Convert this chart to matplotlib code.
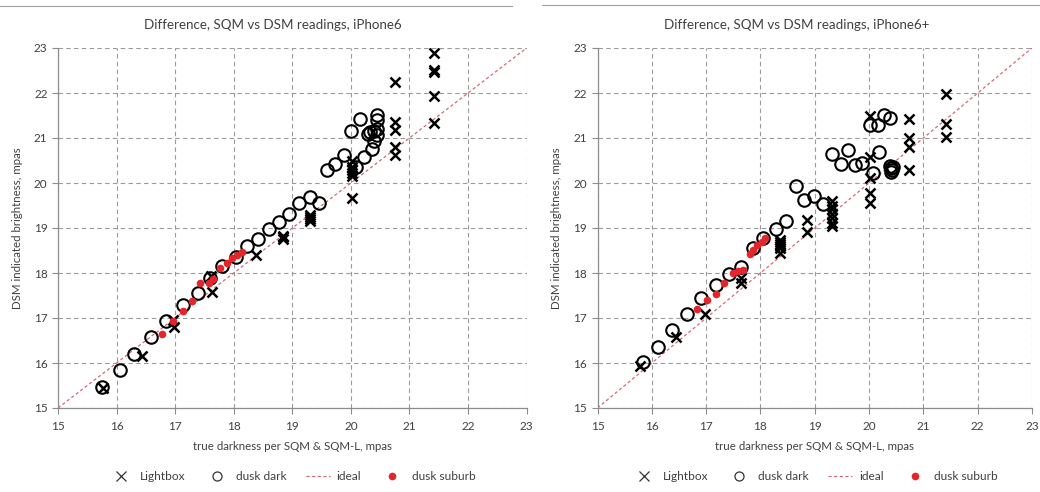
import numpy as np
import matplotlib
matplotlib.use("Agg")
import matplotlib.pyplot as plt
from matplotlib.lines import Line2D

plt.rcParams['font.family'] = ['Lato', 'DejaVu Sans']

# iPhone6 readings: (SQM true darkness, DSM indicated)
p6_lightbox = [
    (15.77, 15.44), (16.44, 16.16), (16.97, 16.95), (16.98, 16.79),
    (17.62, 17.93), (17.63, 17.58), (18.38, 18.40),
    (18.84, 18.75), (18.84, 18.79), (18.84, 18.83),
    (19.31, 19.15), (19.31, 19.20), (19.31, 19.25), (19.31, 19.30),
    (20.02, 19.66), (20.02, 20.15), (20.02, 20.22), (20.02, 20.28),
    (20.02, 20.35), (20.02, 20.50),
    (20.76, 20.62), (20.76, 20.81), (20.76, 21.18), (20.76, 21.36), (20.76, 22.25),
    (21.42, 21.34), (21.42, 21.94), (21.42, 22.47), (21.42, 22.52), (21.42, 22.88),
]
p6_dusk_dark = [
    (15.75, 15.47), (16.06, 15.84), (16.30, 16.21), (16.59, 16.57), (16.85, 16.94),
    (17.13, 17.29), (17.39, 17.56), (17.60, 17.88), (17.80, 18.16), (18.04, 18.35),
    (18.23, 18.59), (18.41, 18.75), (18.60, 18.97), (18.77, 19.14), (18.95, 19.31),
    (19.11, 19.55), (19.31, 19.70), (19.45, 19.55), (19.59, 20.30), (19.73, 20.42),
    (19.88, 20.62), (20.00, 21.16), (20.08, 20.36), (20.15, 21.42), (20.23, 20.57),
    (20.29, 21.09), (20.33, 21.14), (20.36, 20.75), (20.39, 21.16), (20.40, 20.94),
    (20.44, 21.51), (20.44, 21.40), (20.45, 21.19), (20.45, 21.07),
]
p6_dusk_suburb = [
    (16.77, 16.64), (16.97, 16.93), (17.13, 17.16), (17.29, 17.38), (17.43, 17.77),
    (17.57, 17.78), (17.65, 17.86), (17.77, 18.10), (17.88, 18.22), (17.97, 18.33),
    (18.05, 18.40), (18.14, 18.47),
]

# iPhone6+ readings
p6p_lightbox = [
    (15.79, 15.93), (16.44, 16.57), (16.98, 17.09), (17.65, 17.77), (17.65, 17.90),
    (18.36, 18.45), (18.36, 18.55), (18.36, 18.60), (18.36, 18.65), (18.36, 18.70),
    (18.36, 18.74), (18.85, 18.92), (18.85, 19.18),
    (19.31, 19.05), (19.31, 19.12), (19.31, 19.22), (19.31, 19.32), (19.31, 19.42),
    (19.31, 19.50), (19.31, 19.60),
    (20.01, 19.55), (20.01, 19.78), (20.01, 20.10), (20.01, 20.57), (20.01, 21.49),
    (20.73, 20.29), (20.73, 20.81), (20.73, 20.99), (20.73, 21.42),
    (21.41, 21.03), (21.41, 21.31), (21.41, 21.98),
]
p6p_dusk_dark = [
    (15.83, 16.03), (16.12, 16.36), (16.38, 16.73), (16.65, 17.08), (16.90, 17.44),
    (17.18, 17.73), (17.42, 17.97), (17.65, 18.13), (17.86, 18.55), (18.05, 18.77),
    (18.28, 18.97), (18.47, 19.16), (18.65, 19.93), (18.81, 19.62), (18.99, 19.72),
    (19.16, 19.53), (19.32, 20.64), (19.49, 20.42), (19.62, 20.73), (19.75, 20.40),
    (19.87, 20.44), (20.01, 21.29), (20.08, 20.23), (20.16, 21.29), (20.19, 20.70),
    (20.28, 21.51), (20.38, 21.44), (20.38, 20.38), (20.41, 20.33), (20.43, 20.28),
    (20.40, 20.25), (20.44, 20.35),
]
p6p_dusk_suburb = [
    (16.83, 17.21), (17.02, 17.40), (17.18, 17.53), (17.33, 17.77), (17.49, 17.99),
    (17.59, 18.05), (17.68, 18.07), (17.80, 18.42), (17.86, 18.51), (17.94, 18.62),
    (18.02, 18.70), (18.08, 18.77),
]

ideal = [15, 23]
ticks = np.arange(15, 24, 1)

red = '#e3262b'
ideal_col = '#d06a75'
grid_col = '#9a9a9a'
axis_col = '#8c8c8c'
text_col = '#404040'


def draw(ax, lightbox, dusk_dark, dusk_suburb, title, title_x):
    ax.set_xlim(15, 23)
    ax.set_ylim(15, 23)
    ax.set_xticks(ticks)
    ax.set_yticks(ticks)
    ax.grid(True, color=grid_col, linestyle=(0, (4, 3)), linewidth=0.8)
    ax.set_axisbelow(True)
    for s in ['top', 'right']:
        ax.spines[s].set_visible(False)
    for s in ['left', 'bottom']:
        ax.spines[s].set_color(axis_col)
        ax.spines[s].set_linewidth(0.9)
    ax.tick_params(colors=axis_col, labelcolor=text_col, labelsize=8.5, length=4, width=0.8)
    ax.tick_params(axis='x', pad=5)

    ax.plot(ideal, ideal, color=ideal_col, linestyle=(0, (2.5, 2)), linewidth=0.9, zorder=2)
    lb = np.array(lightbox)
    ax.plot(lb[:, 0], lb[:, 1], linestyle='none', marker='x', color='black',
            markersize=7.5, markeredgewidth=1.8, zorder=3)
    dd = np.array(dusk_dark)
    ax.plot(dd[:, 0], dd[:, 1], linestyle='none', marker='o', markerfacecolor='none',
            markeredgecolor='black', markersize=9, markeredgewidth=1.5, zorder=3)
    ds = np.array(dusk_suburb)
    ax.plot(ds[:, 0], ds[:, 1], linestyle='none', marker='o', color=red,
            markersize=4.5, zorder=4)

    ax.set_xlabel('true darkness per SQM & SQM-L, mpas', fontsize=8.3, color=text_col, labelpad=7)
    ax.set_ylabel('DSM indicated brightness, mpas', fontsize=8.3, color=text_col, labelpad=8)
    fig.text(title_x, 1 - 25 / 492, title, fontsize=9.6, color=text_col,
             ha='center', va='center')

    handles = [
        Line2D([], [], linestyle='none', marker='x', color='#333333', markersize=7, markeredgewidth=0.9),
        Line2D([], [], linestyle='none', marker='o', markerfacecolor='none', markeredgecolor='#333333',
               markersize=6.5, markeredgewidth=0.9),
        Line2D([], [], color=ideal_col, linestyle=(0, (2.5, 2)), linewidth=0.9),
        Line2D([], [], linestyle='none', marker='o', color=red, markersize=4.5),
    ]
    labels = ['Lightbox', 'dusk dark', 'ideal', 'dusk suburb']
    ax.legend(handles, labels, loc='center', bbox_to_anchor=(0.5, -0.19), ncol=4,
              frameon=False, fontsize=8.6, handlelength=2.0, handletextpad=0.6,
              columnspacing=1.6, labelcolor=text_col)


fig = plt.figure(figsize=(10.4, 4.92), dpi=100)
ax1 = fig.add_axes([58 / 1040, 84 / 492, 468.6 / 1040, 360 / 492])
ax2 = fig.add_axes([597.5 / 1040, 84 / 492, 434.5 / 1040, 360 / 492])

draw(ax1, p6_lightbox, p6_dusk_dark, p6_dusk_suburb,
     'Difference, SQM vs DSM readings, iPhone6', 273 / 1040)
draw(ax2, p6p_lightbox, p6p_dusk_dark, p6p_dusk_suburb,
     'Difference, SQM vs DSM readings, iPhone6+', 797 / 1040)

# frame lines of the two chart panels
fig.add_artist(Line2D([0, 512 / 1040], [1 - 6 / 492, 1 - 6 / 492], color='#a0a0a0', linewidth=0.8))
fig.add_artist(Line2D([542 / 1040, 1], [1 - 5 / 492, 1 - 5 / 492], color='#a0a0a0', linewidth=0.8))

fig.savefig('out.png', dpi=100, facecolor='white')
